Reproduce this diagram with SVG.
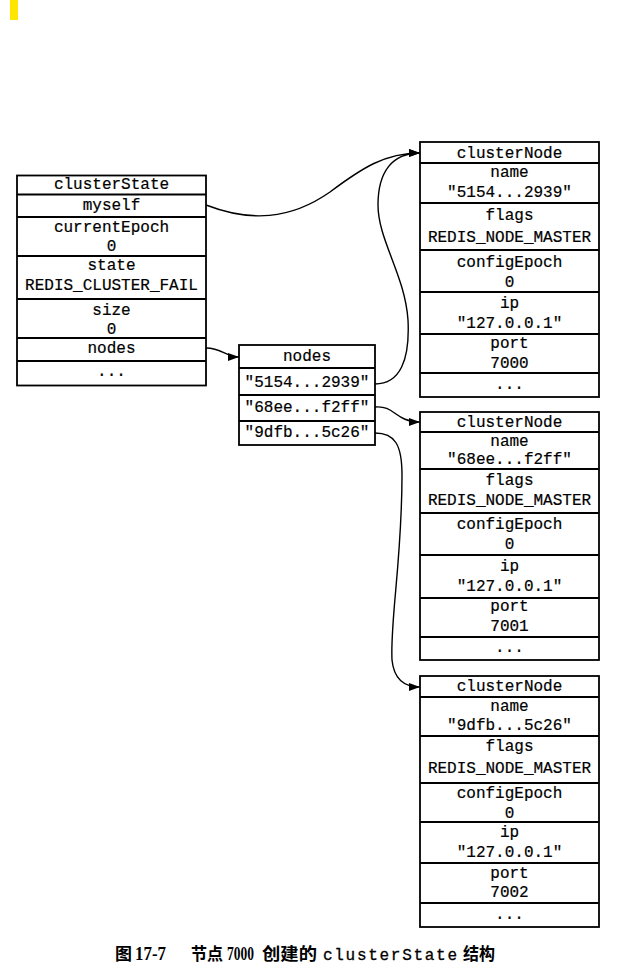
<svg xmlns="http://www.w3.org/2000/svg" width="620" height="976" viewBox="0 0 620 976">
<style>
.box{fill:#fff;stroke:#000;stroke-width:1.8}
.ln{stroke:#000;stroke-width:1.8}
.t{font-family:"Liberation Mono","DejaVu Sans Mono",monospace;font-size:16px;fill:#000;stroke:#000;stroke-width:0.2;text-anchor:middle}
.con{fill:none;stroke:#000;stroke-width:1.4}
.cap{font-family:"Noto Sans CJK SC",sans-serif;font-weight:bold;font-size:17px;fill:#000}
.capn{font-family:"Liberation Serif",serif;font-weight:bold;font-size:18px;fill:#000}
.capm{font-family:"Liberation Mono",monospace;font-size:16px;fill:#000;stroke:#000;stroke-width:0.3}
</style>
<defs>
<marker id="arr" markerUnits="userSpaceOnUse" markerWidth="12" markerHeight="10" refX="11" refY="4" orient="auto">
<path d="M0,0 L11,4 L0,8 Z" fill="#000"/>
</marker>
</defs>
<rect x="10" y="0" width="8" height="20" fill="#ffe600"/>

<g id="clusterState">
<rect class="box" x="17" y="175.5" width="189" height="210"/>
<line class="ln" x1="17" y1="194.5" x2="206" y2="194.5"/>
<line class="ln" x1="17" y1="217" x2="206" y2="217"/>
<line class="ln" x1="17" y1="256" x2="206" y2="256"/>
<line class="ln" x1="17" y1="299" x2="206" y2="299"/>
<line class="ln" x1="17" y1="338" x2="206" y2="338"/>
<line class="ln" x1="17" y1="361" x2="206" y2="361"/>
<text class="t" x="111.5" y="189">clusterState</text>
<text class="t" x="111.5" y="210">myself</text>
<text class="t" x="111.5" y="232">currentEpoch</text>
<text class="t" x="111.5" y="251">0</text>
<text class="t" x="111.5" y="270">state</text>
<text class="t" x="111.5" y="290">REDIS_CLUSTER_FAIL</text>
<text class="t" x="111.5" y="315">size</text>
<text class="t" x="111.5" y="334">0</text>
<text class="t" x="111.5" y="353">nodes</text>
<text class="t" x="111.5" y="376">...</text>
</g>

<g id="nodesDict">
<rect class="box" x="239" y="345" width="136" height="100"/>
<line class="ln" x1="239" y1="368" x2="375" y2="368"/>
<line class="ln" x1="239" y1="395" x2="375" y2="395"/>
<line class="ln" x1="239" y1="421" x2="375" y2="421"/>
<text class="t" x="307" y="361">nodes</text>
<text class="t" x="307" y="387">"5154...2939"</text>
<text class="t" x="307" y="412">"68ee...f2ff"</text>
<text class="t" x="307" y="437">"9dfb...5c26"</text>
</g>

<g id="clusterNode7000">
<rect class="box" x="420" y="142" width="179" height="255"/>
<line class="ln" x1="420" y1="163" x2="599" y2="163"/>
<line class="ln" x1="420" y1="203" x2="599" y2="203"/>
<line class="ln" x1="420" y1="250" x2="599" y2="250"/>
<line class="ln" x1="420" y1="292" x2="599" y2="292"/>
<line class="ln" x1="420" y1="334" x2="599" y2="334"/>
<line class="ln" x1="420" y1="373" x2="599" y2="373"/>
<text class="t" x="509.5" y="158">clusterNode</text>
<text class="t" x="509.5" y="177">name</text>
<text class="t" x="509.5" y="197">"5154...2939"</text>
<text class="t" x="509.5" y="220">flags</text>
<text class="t" x="509.5" y="242">REDIS_NODE_MASTER</text>
<text class="t" x="509.5" y="267">configEpoch</text>
<text class="t" x="509.5" y="287">0</text>
<text class="t" x="509.5" y="308">ip</text>
<text class="t" x="509.5" y="328">"127.0.0.1"</text>
<text class="t" x="509.5" y="348">port</text>
<text class="t" x="509.5" y="368">7000</text>
<text class="t" x="509.5" y="389">...</text>
</g>

<g id="clusterNode7001">
<rect class="box" x="420" y="412" width="179" height="248"/>
<line class="ln" x1="420" y1="432" x2="599" y2="432"/>
<line class="ln" x1="420" y1="469" x2="599" y2="469"/>
<line class="ln" x1="420" y1="513" x2="599" y2="513"/>
<line class="ln" x1="420" y1="555" x2="599" y2="555"/>
<line class="ln" x1="420" y1="598" x2="599" y2="598"/>
<line class="ln" x1="420" y1="637" x2="599" y2="637"/>
<text class="t" x="509.5" y="427">clusterNode</text>
<text class="t" x="509.5" y="446">name</text>
<text class="t" x="509.5" y="464">"68ee...f2ff"</text>
<text class="t" x="509.5" y="485">flags</text>
<text class="t" x="509.5" y="505">REDIS_NODE_MASTER</text>
<text class="t" x="509.5" y="529">configEpoch</text>
<text class="t" x="509.5" y="549">0</text>
<text class="t" x="509.5" y="571">ip</text>
<text class="t" x="509.5" y="591">"127.0.0.1"</text>
<text class="t" x="509.5" y="611">port</text>
<text class="t" x="509.5" y="631">7001</text>
<text class="t" x="509.5" y="652">...</text>
</g>

<g id="clusterNode7002">
<rect class="box" x="420" y="676" width="179" height="251"/>
<line class="ln" x1="420" y1="697" x2="599" y2="697"/>
<line class="ln" x1="420" y1="736" x2="599" y2="736"/>
<line class="ln" x1="420" y1="783" x2="599" y2="783"/>
<line class="ln" x1="420" y1="822" x2="599" y2="822"/>
<line class="ln" x1="420" y1="863" x2="599" y2="863"/>
<line class="ln" x1="420" y1="903" x2="599" y2="903"/>
<text class="t" x="509.5" y="691">clusterNode</text>
<text class="t" x="509.5" y="711">name</text>
<text class="t" x="509.5" y="730">"9dfb...5c26"</text>
<text class="t" x="509.5" y="751">flags</text>
<text class="t" x="509.5" y="773">REDIS_NODE_MASTER</text>
<text class="t" x="509.5" y="798">configEpoch</text>
<text class="t" x="509.5" y="818">0</text>
<text class="t" x="509.5" y="837">ip</text>
<text class="t" x="509.5" y="857">"127.0.0.1"</text>
<text class="t" x="509.5" y="878">port</text>
<text class="t" x="509.5" y="897">7002</text>
<text class="t" x="509.5" y="919">...</text>
</g>

<g id="connectors">
<path class="con" d="M206,205 C250,222 290,220 330,192 C362,168 385,153 420,153" marker-end="url(#arr)"/>
<path class="con" d="M206,348 C222,348 226,357 239,357" marker-end="url(#arr)"/>
<path class="con" d="M375,384 C400,384 410,360 408,320 C405,275 378,240 378,205 C378,172 392,153 420,153" marker-end="url(#arr)"/>
<path class="con" d="M375,407 C395,405 395,422 420,422" marker-end="url(#arr)"/>
<path class="con" d="M375,433 C395,433 402,445 402,475 C402,560 390,620 392,660 C394,680 405,687 420,687" marker-end="url(#arr)"/>
</g>

<g id="caption">
<text class="cap" x="115" y="960">图</text>
<text class="capn" x="135" y="960" textLength="31" lengthAdjust="spacingAndGlyphs">17-7</text>
<text class="cap" x="191" y="960" textLength="32" lengthAdjust="spacingAndGlyphs">节点</text>
<text class="capn" x="227" y="960" textLength="27" lengthAdjust="spacingAndGlyphs">7000</text>
<text class="cap" x="262" y="960" textLength="55" lengthAdjust="spacingAndGlyphs">创建的</text>
<text class="capm" x="323" y="960" textLength="134" lengthAdjust="spacing">clusterState</text>
<text class="cap" x="463" y="960" textLength="32" lengthAdjust="spacingAndGlyphs">结构</text>
</g>
</svg>
